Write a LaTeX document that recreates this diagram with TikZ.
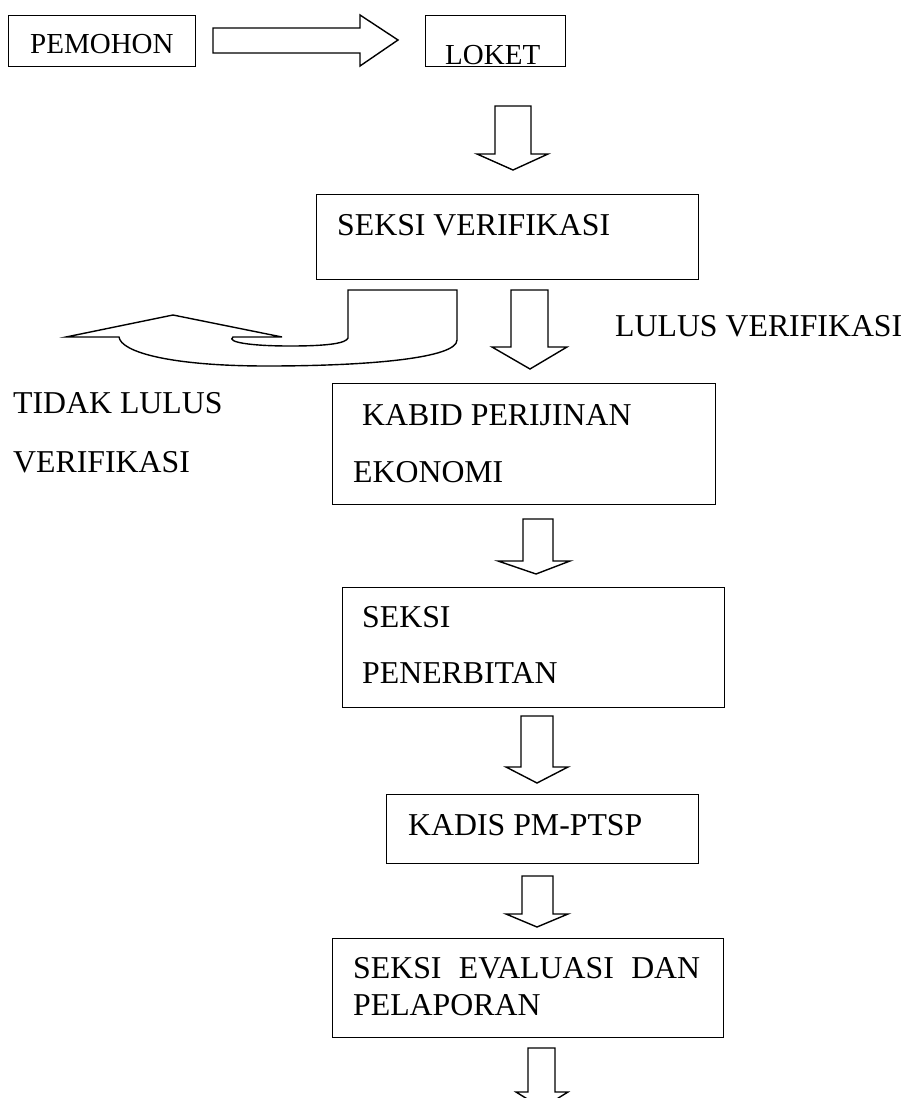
\documentclass[tikz,border=0pt]{standalone}
\usepackage{fontspec}
\setmainfont{Liberation Serif}
\begin{document}
\begin{tikzpicture}[x=1pt,y=-1pt,
  box/.style={draw, line width=1.4pt, rectangle, inner sep=0pt, anchor=north west},
  lbl/.style={inner sep=0pt, anchor=base west, font=\fontsize{31.8}{38}\selectfont},
  slbl/.style={inner sep=0pt, anchor=base west, font=\fontsize{29}{35}\selectfont},
  blk/.style={draw, line width=1.4pt, line join=miter, fill=white}]
\useasboundingbox (0,0) rectangle (905,1098);
\clip (0,0) rectangle (905,1098);
% boxes
\node[box, minimum width=187pt, minimum height=51pt] (pemohon) at (8,15) {};
\node[box, minimum width=140pt, minimum height=51pt] (loket) at (425,15) {};
\node[box, minimum width=382pt, minimum height=85pt] (sver) at (316,194) {};
\node[box, minimum width=383pt, minimum height=121pt] (kabid) at (332,383) {};
\node[box, minimum width=382pt, minimum height=120pt] (pener) at (342,587) {};
\node[box, minimum width=312pt, minimum height=69pt] (kadis) at (386,794) {};
\node[box, minimum width=391pt, minimum height=99pt] (eval) at (332,938) {};
% texts
\node[slbl] (t1) at (30,53) {PEMOHON};
\node[slbl] (t2) at (445,64) {LOKET};
\node[lbl] (t3) at (337,235) {SEKSI VERIFIKASI};
\node[lbl] (t4) at (615,336) {LULUS VERIFIKASI};
\node[lbl] (t5) at (13,413) {TIDAK LULUS};
\node[lbl] (t6) at (13,472) {VERIFIKASI};
\node[lbl] (t7) at (362,425) {KABID PERIJINAN};
\node[lbl] (t8) at (353,482) {EKONOMI};
\node[lbl] (t9) at (362,627) {SEKSI};
\node[lbl] (t10) at (362,683) {PENERBITAN};
\node[lbl] (t11) at (408,835) {KADIS PM-PTSP};
\node[lbl] (t12) at (353,978) {\hbox to 347pt{SEKSI\hfill EVALUASI\hfill DAN}};
\node[lbl] (t13) at (353,1015) {PELAPORAN};
% block arrows
\draw[blk] (213,28) -- (360,28) -- (360,15) -- (398,40) -- (360,66) -- (360,53) -- (213,53) -- cycle;
\draw[blk] (495,106) -- (531,106) -- (531,154) -- (548,154) -- (513,170) -- (477,154) -- (495,154) -- cycle;
\draw[blk] (511,290) -- (548,290) -- (548,347) -- (567,347) -- (530,369) -- (492,347) -- (511,347) -- cycle;
\draw[blk] (523,519) -- (553,519) -- (553,561) -- (570,561) -- (536,574) -- (498,561) -- (523,561) -- cycle;
\draw[blk] (521,716) -- (553,716) -- (553,767) -- (568,767) -- (537,783) -- (506,767) -- (521,767) -- cycle;
\draw[blk] (522,876) -- (553,876) -- (553,914) -- (568,914) -- (537,927) -- (506,914) -- (522,914) -- cycle;
\draw[blk] (528,1048) -- (555,1048) -- (555,1092) -- (568,1092) -- (542,1108) -- (516,1092) -- (528,1092) -- cycle;
% curved arrow (tidak lulus)
\draw[blk] (348,290) -- (457,290) -- (457,340)
  .. controls (457,358) and (370,366) .. (267,366)
  .. controls (170,366) and (121,352) .. (119,337)
  -- (66,337) -- (173,315) -- (282,337) -- (233,337)
  .. controls (226,342) and (250,346) .. (290,346)
  .. controls (330,346) and (346,343) .. (348,338) -- cycle;
\end{tikzpicture}
\end{document}
